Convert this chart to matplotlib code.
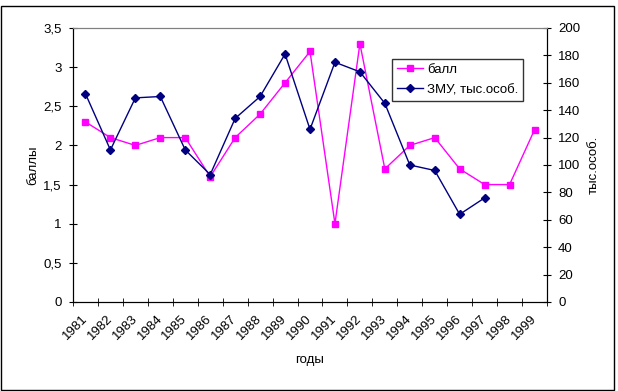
import numpy as np
import matplotlib.pyplot as plt
import matplotlib.transforms as mtransforms
from matplotlib.ticker import FuncFormatter

plt.rcParams['font.family'] = ['Liberation Sans', 'DejaVu Sans']

years = ['1981', '1982', '1983', '1984', '1985', '1986', '1987', '1988', '1989', '1990',
         '1991', '1992', '1993', '1994', '1995', '1996', '1997', '1998', '1999']
ball = [2.3, 2.1, 2.0, 2.1, 2.1, 1.6, 2.1, 2.4, 2.8, 3.2,
        1.0, 3.3, 1.7, 2.0, 2.1, 1.7, 1.5, 1.5, 2.2]
zmu = [152, 111, 149, 150, 111, 93, 134, 150, 181, 126,
       175, 168, 145, 100, 96, 64, 76, np.nan, np.nan]

x = np.arange(len(years))
fs = 9.5

fig = plt.figure(figsize=(6.18, 3.91), dpi=100)
ax1 = fig.add_axes([73/618, 1 - 302/391, 474/618, 274/391])
ax2 = ax1.twinx()

l1, = ax1.plot(x, ball, color='#ff00ff', marker='s', markersize=5, lw=1, label='балл')
l2, = ax2.plot(x, zmu, color='#000080', marker='D', markersize=4, lw=1, label='ЗМУ, тыс.особ.')

ax1.set_xlim(-0.5, len(years) - 0.5)
ax1.set_ylim(0, 3.5)
ax2.set_ylim(0, 200)
ax1.set_yticks(np.arange(0, 3.51, 0.5))
ax1.yaxis.set_major_formatter(FuncFormatter(lambda v, p: ('%g' % v).replace('.', ',')))
ax2.set_yticks(np.arange(0, 201, 20))

ax1.set_xticks(x)
ax1.set_xticklabels(years, rotation=45, ha='right', va='center', rotation_mode='anchor', fontsize=fs)
offset = mtransforms.ScaledTranslation(-4/100, 0, fig.dpi_scale_trans)
for lab in ax1.get_xticklabels():
    lab.set_transform(lab.get_transform() + offset)
ax1.set_xticks(np.arange(-0.5, len(years)), minor=True)
ax1.tick_params(axis='x', which='major', length=0, pad=11)
ax1.tick_params(axis='x', which='minor', length=6, direction='inout')
ax1.tick_params(axis='y', direction='inout', length=6, labelsize=fs, pad=5)
ax2.tick_params(axis='y', direction='inout', length=6, labelsize=fs, pad=5)

for a in (ax1, ax2):
    a.spines['top'].set_color('#808080')
    a.spines['left'].set_color('black')
    a.spines['right'].set_color('black')

ax1.set_ylabel('баллы', fontsize=fs, labelpad=3)
ax2.set_ylabel('тыс.особ.', fontsize=fs, labelpad=5)
ax1.set_xlabel('годы', fontsize=fs, labelpad=8)

leg = ax1.legend(handles=[l1, l2], loc='upper left', bbox_to_anchor=((392-73)/474, 1 - (59-28)/274),
                 fontsize=fs, frameon=True, fancybox=False, edgecolor='black',
                 borderpad=0.35, handlelength=2.0, handletextpad=0.3, labelspacing=0.6,
                 borderaxespad=0)
leg.get_frame().set_linewidth(1)

fig.patches.append(plt.Rectangle((1/618, 1/391), 1 - 5/618, 1 - 7/391, transform=fig.transFigure,
                                 fill=False, edgecolor='black', lw=1))

fig.savefig('out.png', dpi=100)
